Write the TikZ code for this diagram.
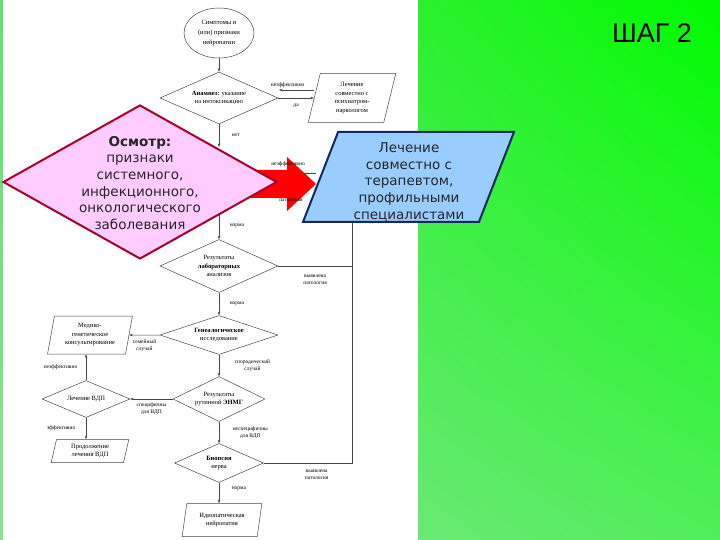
\documentclass[tikz,border=0pt]{standalone}
\usepackage{fontspec}
\setmainfont{Liberation Serif}
\newfontfamily\overfont{DejaVu Sans}
\newfontfamily\stepfont{Liberation Sans}
\usetikzlibrary{shapes.geometric,arrows.meta,positioning,shadings}

\definecolor{pinkfill}{RGB}{255,204,255}
\definecolor{pinkline}{RGB}{170,0,40}
\definecolor{bluefill}{RGB}{153,204,255}
\definecolor{blueline}{RGB}{20,40,90}
\definecolor{flowline}{RGB}{70,70,70}
\definecolor{greenul}{RGB}{100,225,110}
\definecolor{greenur}{RGB}{0,252,0}
\definecolor{greenll}{RGB}{140,226,150}
\definecolor{greenlr}{RGB}{80,238,90}

\tikzset{
  flow/.style={draw=flowline, line width=0.5pt, inner sep=0pt, align=center,
    font=\fontsize{6.5}{8.5}\selectfont},
  decision/.style={flow, diamond, aspect=2.4},
  iobox/.style={flow, trapezium, trapezium left angle=78, trapezium right angle=102,
    trapezium stretches=true},
  startbox/.style={flow, ellipse, font=\fontsize{6.5}{10}\selectfont},
  lbl/.style={font=\fontsize{5.5}{7}\selectfont, align=center, inner sep=0.5pt},
  arr/.style={draw=flowline, line width=0.5pt, -{Stealth[length=3.5pt,width=2.6pt]}},
  link/.style={draw=flowline, line width=0.5pt},
  overtext/.style={font=\overfont\fontsize{13.5}{16.7}\selectfont, align=center,
    text=black!85, inner sep=0pt}
}

\begin{document}
\begin{tikzpicture}[x=1pt,y=-1pt]
  \useasboundingbox (0,0) rectangle (720,540);
  % Background
  \shade[upper left=greenul, upper right=greenur, lower left=greenll, lower right=greenlr]
    (0,0) rectangle (720,540);
  \fill[white] (3,0) rectangle (418,540);
  % Flowchart
  \node[startbox, minimum width=70pt, minimum height=50pt] (sym) at (219,33)
    {Симптомы и\\(или) признаки\\нейропатии};
  \node[decision, minimum width=118pt, minimum height=52pt] (anam) at (219,98)
    {\textbf{Анамнез:} указание\\на интоксикацию};
  \node[iobox, minimum width=88pt, minimum height=49pt] (psy) at (352,98)
    {Лечение\\совместно с\\психиатром-\\наркологом};
  \node[decision, minimum width=118pt, minimum height=53pt] (lab) at (219,266)
    {Результаты\\\textbf{лабораторных}\\анализов};
  \node[decision, minimum width=118pt, minimum height=39pt] (gen) at (219,335)
    {\textbf{Генеалогическое}\\исследование};
  \node[iobox, minimum width=85pt, minimum height=38pt] (mgk) at (90,335)
    {Медико-\\генетическое\\консультирование};
  \node[decision, minimum width=92pt, minimum height=45pt] (enmg) at (219,399)
    {Результаты\\рутинной \textbf{ЭНМГ}};
  \node[decision, minimum width=88pt, minimum height=37pt] (vdp) at (86,399)
    {Лечение ВДП};
  \node[iobox, minimum width=78pt, minimum height=23pt] (prod) at (90,451)
    {Продолжение\\лечения ВДП};
  \node[decision, minimum width=89pt, minimum height=39pt] (bio) at (219,463)
    {\textbf{Биопсия}\\нерва};
  \node[iobox, minimum width=80pt, minimum height=33pt] (idio) at (222,520)
    {Идиопатическая\\нейропатия};
  \coordinate (osmin) at (219,147);
  \coordinate (osmout) at (219,205);
  \coordinate (terin) at (316,173);
  \coordinate (osmback) at (262,173);
  \coordinate (patup) at (352,215);
  \coordinate (patlab) at (352,266);
  \coordinate (patbio) at (352,463);
  % Connectors
  \draw[arr] (sym.south) -- (anam.north);
  \draw[arr] (anam.east) -- (psy.west |- anam.east)
    node[lbl, below=5pt, midway] {да};
  \draw[arr] ([yshift=8pt]psy.west) -- ++(-35,0)
    node[lbl, above=2pt, pos=0.75] {неэффективно};
  \draw[arr] (anam.south) -- (osmin) node[lbl, right=12pt, midway] {нет};
  \draw[arr] (terin) -- (osmback);
  \draw[arr] (osmout) -- (lab.north) node[lbl, right=10pt, pos=0.6] {норма};
  \draw[arr] (lab.south) -- (gen.north) node[lbl, right=10pt, midway] {норма};
  \draw[link] (lab.east) -- (patlab) node[lbl, below=8pt, midway] {выявлена\\патология};
  \draw[arr] (gen.west) -- (mgk.east) node[lbl, below=4pt, midway] {семейный\\случай};
  \draw[arr] (gen.south) -- (enmg.north) node[lbl, right=15pt, midway] {спорадический\\случай};
  \draw[arr] (enmg.west) -- (vdp.east) node[lbl, below=3pt, midway] {специфичны\\для ВДП};
  \draw[arr] (vdp.north) -- (vdp.north |- mgk.south) node[lbl, left=8pt, midway] {неэффективно};
  \draw[arr] (vdp.south) -- (vdp.south |- prod.north) node[lbl, left=10pt, midway] {эффективно};
  \draw[arr] (enmg.south) -- (bio.north) node[lbl, right=13pt, midway] {неспецифичны\\для ВДП};
  \draw[link] (bio.east) -- (patbio) node[lbl, below=6pt, pos=0.6] {выявлена\\патология} -- (patup);
  \draw[arr] (bio.south) -- (bio.south |- idio.north) node[lbl, right=12pt, pos=0.3] {норма};
  % Overlay
  \fill[red] (240,170) -- (287,170) -- (287,157) -- (316,184) -- (287,211)
    -- (287,198) -- (240,198) -- cycle;
  \node[lbl] (neff) at (288,164) {неэффективно};
  \node[lbl] (pat) at (291,200) {патология};
  \node[diamond, fill=pinkfill, draw=pinkline, line width=2pt, inner sep=0pt,
    minimum width=274pt, minimum height=154pt] (osm) at (140,182) {};
  \node[overtext] (osmtxt) at (140,183)
    {\textbf{Осмотр:}\\признаки\\системного,\\инфекционного,\\онкологического\\заболевания};
  \node[trapezium, trapezium left angle=76, trapezium right angle=104,
    trapezium stretches=true, fill=bluefill, draw=blueline, line width=2pt,
    inner sep=1pt, minimum width=211pt, minimum height=90pt] (ter) at (408.5,177) {};
  \node[overtext] (tertxt) at (409,182)
    {Лечение\\совместно с\\терапевтом,\\профильными\\специалистами};
  \node[font=\stepfont\fontsize{27}{30}\selectfont, inner sep=0pt] (shag) at (652,33) {ШАГ 2};
\end{tikzpicture}
\end{document}
